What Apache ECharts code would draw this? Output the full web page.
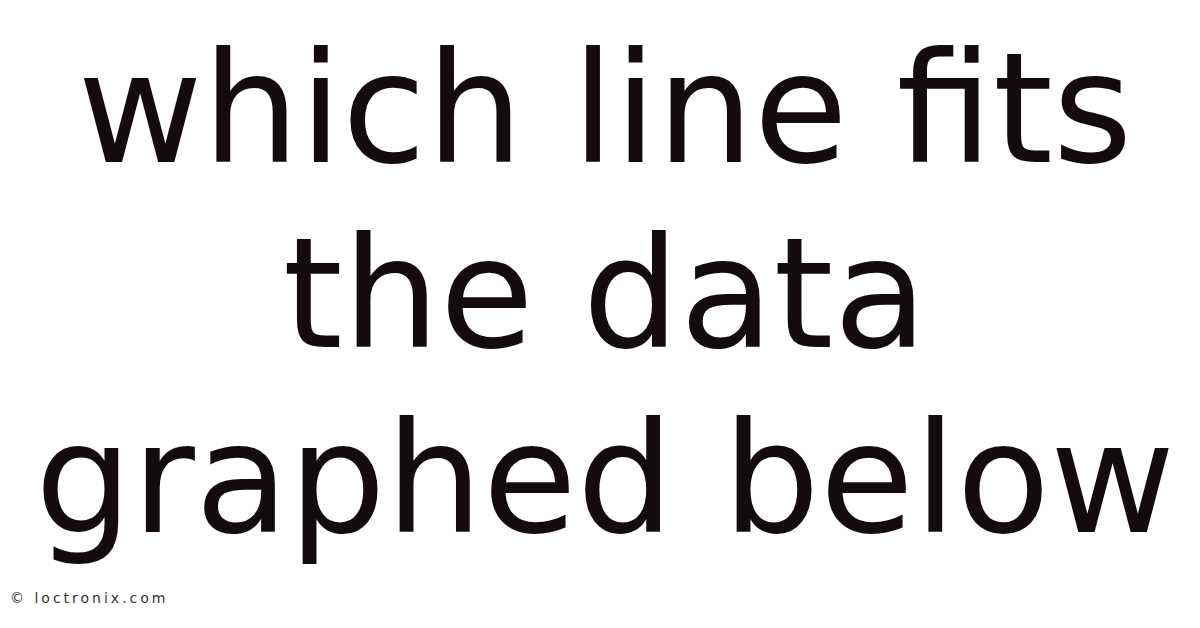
<!DOCTYPE html>
<html>
<head>
<meta charset="utf-8">
<script src="https://cdn.jsdelivr.net/npm/echarts@6/dist/echarts.min.js"></script>
<style>
  html, body { margin: 0; padding: 0; background: #fff; }
  #chart { width: 1200px; height: 628px; }
</style>
</head>
<body>
<div id="chart"></div>
<script>
// title lines and where their middles sit
const titleLines = ['which line fits', 'the data', 'graphed below']
const lineMiddles = [109, 294, 479]
const footnote = '\u00a9 loctronix.com'

const chart = echarts.init(document.getElementById('chart'), null, {renderer: 'svg'})

let graphic = titleLines.map(function (t, i) {
  return {
    type: 'text',
    x: 605,
    y: lineMiddles[i],
    style: {
      text: t,
      fill: '#140c0c',
      font: '153px "DejaVu Sans"',
      align: 'center',
      verticalAlign: 'middle'
    }
  }
})
graphic.push({
  type: 'text',
  x: 10,
  y: 598,
  style: {
    text: footnote,
    fill: '#333333',
    font: '14px "DejaVu Sans"',
    align: 'left',
    verticalAlign: 'middle'
  }
})

chart.setOption({
  backgroundColor: '#ffffff',
  animation: false,
  graphic: graphic
})

// the site mark is spaced out wider than normal
document.querySelectorAll('#chart svg text').forEach(function (el) {
  if (el.textContent.indexOf('loctronix') >= 0) {
    el.style.letterSpacing = '3px'
  }
})
</script>
</body>
</html>
